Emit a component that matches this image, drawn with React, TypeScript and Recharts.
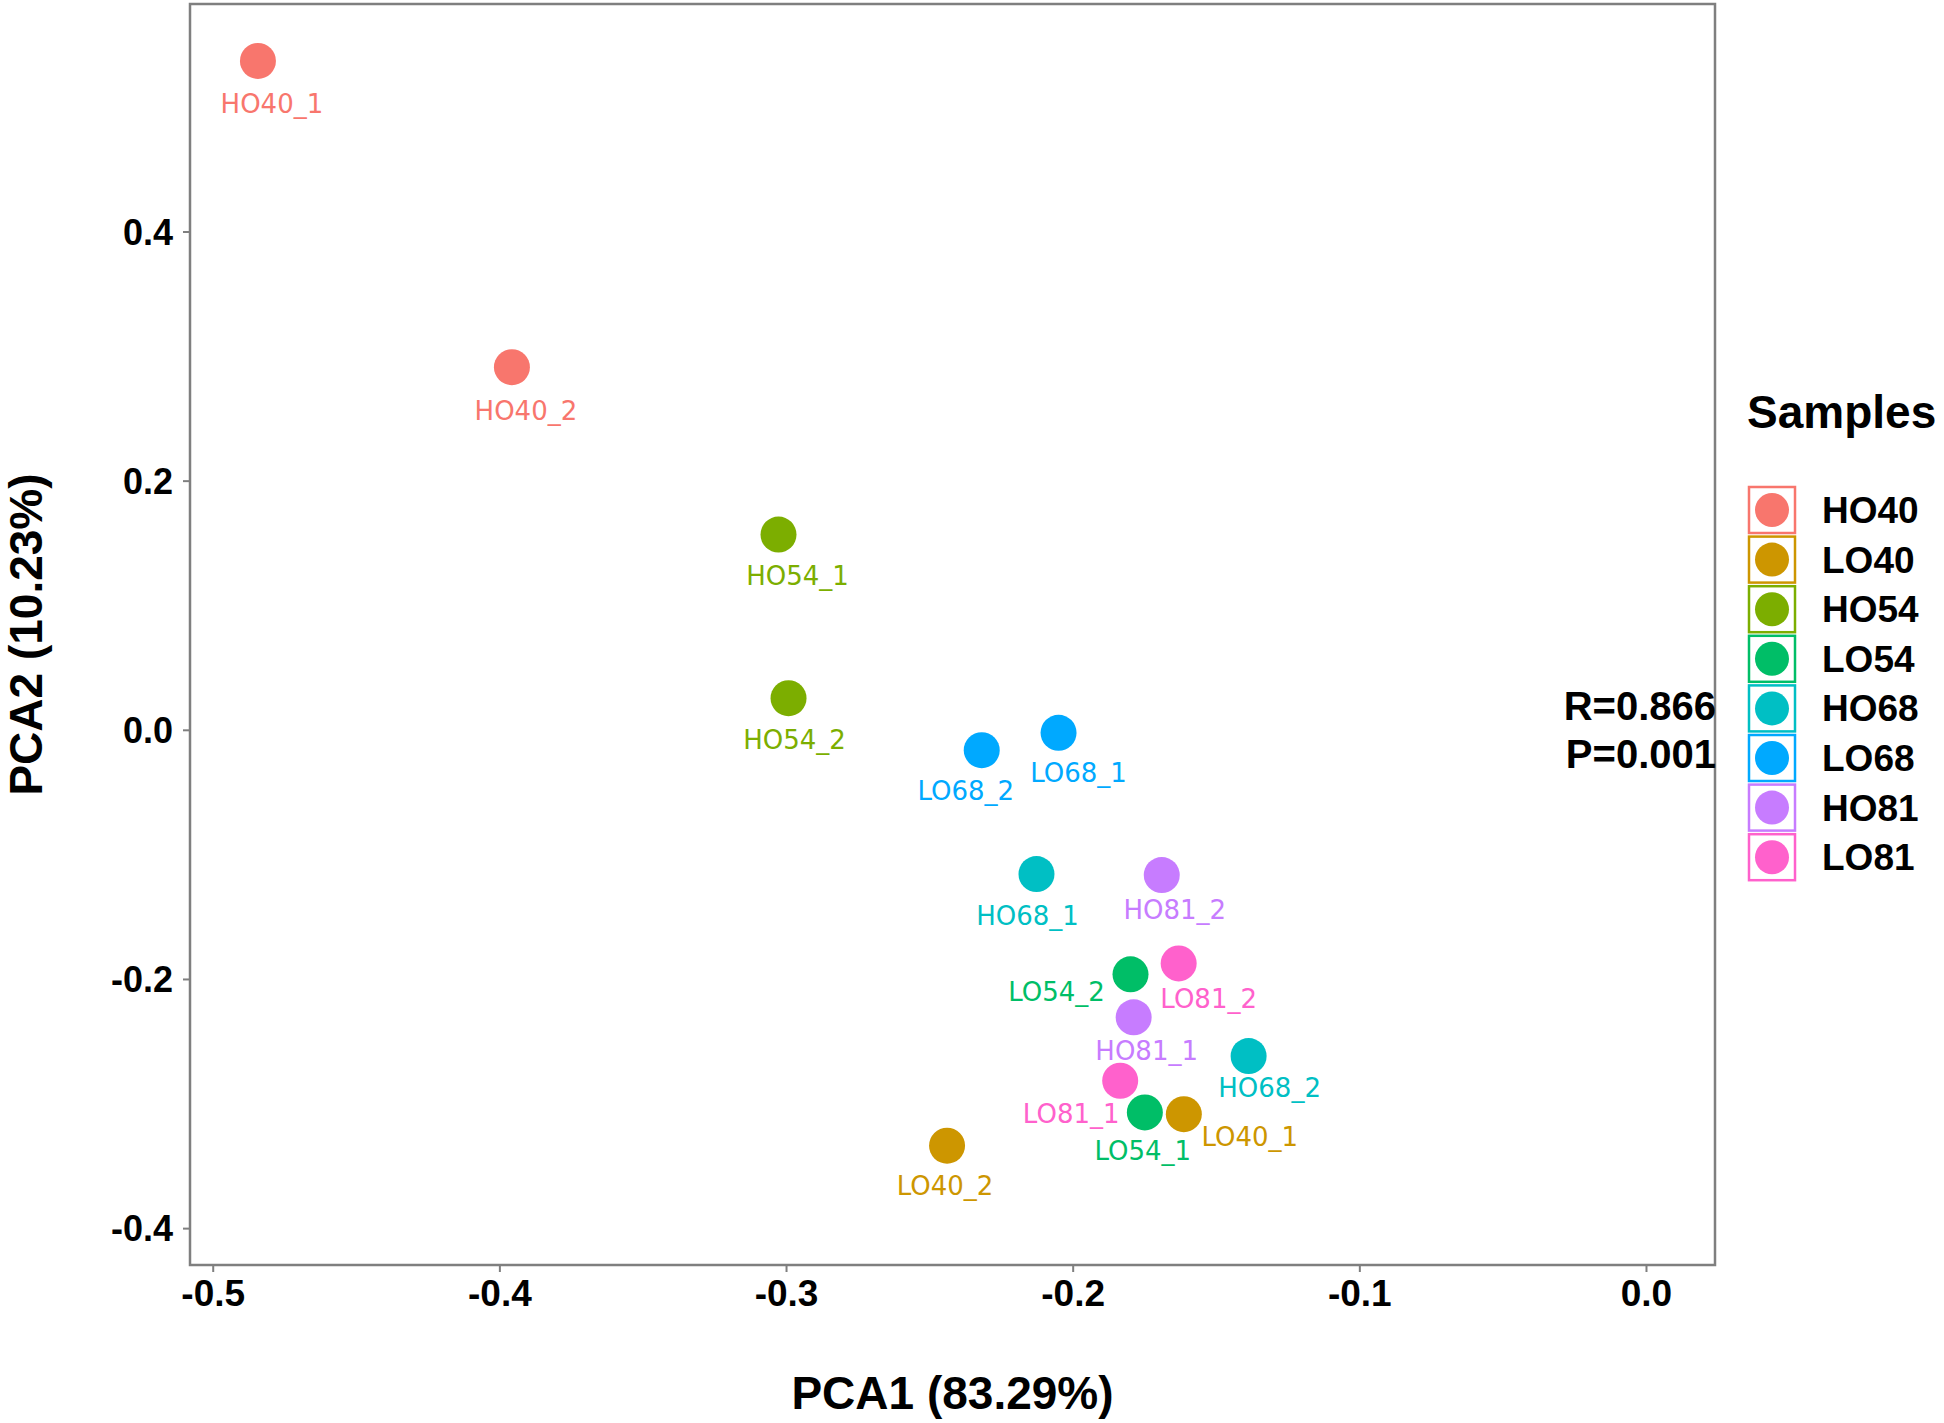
import React from 'react';
import { ScatterChart, Scatter, XAxis, YAxis, ReferenceArea } from 'recharts';

const groups = ['HO40', 'LO40', 'HO54', 'LO54', 'HO68', 'LO68', 'HO81', 'LO81'];
const groupColors = ['#F8766D', '#CD9600', '#7CAE00', '#00BE67', '#00BFC4', '#00A9FF', '#C77CFF', '#FF61CC'];

const samples = ['HO40_1', 'HO40_2', 'LO40_1', 'LO40_2', 'HO54_1', 'HO54_2', 'LO54_1', 'LO54_2',
  'HO68_1', 'HO68_2', 'LO68_1', 'LO68_2', 'HO81_1', 'HO81_2', 'LO81_1', 'LO81_2'];
const sampleGroup = ['HO40', 'HO40', 'LO40', 'LO40', 'HO54', 'HO54', 'LO54', 'LO54',
  'HO68', 'HO68', 'LO68', 'LO68', 'HO81', 'HO81', 'LO81', 'LO81'];
const pca1 = [-0.4844, -0.3958, -0.1614, -0.2440, -0.3028, -0.2993, -0.1750, -0.1800,
  -0.2128, -0.1388, -0.2051, -0.2319, -0.1789, -0.1691, -0.1836, -0.1632];
const pca2 = [0.5373, 0.2915, -0.3081, -0.3334, 0.1571, 0.0258, -0.3067, -0.1959,
  -0.1154, -0.2615, -0.0020, -0.0160, -0.2304, -0.1162, -0.2813, -0.1871];

const xTicks = [-0.5, -0.4, -0.3, -0.2, -0.1, 0.0];
const yTicks = [-0.4, -0.2, 0.0, 0.2, 0.4];
const xDomain = [-0.5081, 0.0239];
const yDomain = [-0.4292, 0.583];

const statLines = ['R=0.866', 'P=0.001'];
const legendTitle = 'Samples';
const xTitle = 'PCA1 (83.29%)';
const yTitle = 'PCA2 (10.23%)';

// label placement (ggrepel-like nudges, pixels)
const labelNudge: Record<string, [number, number]> = {
  HO40_1: [14, 43], HO40_2: [14, 43], HO54_1: [19, 41], HO54_2: [6, 41],
  LO68_1: [20, 40], LO68_2: [-16, 40], HO68_1: [-9, 42], HO81_2: [13, 35],
  LO54_2: [-74, 17], LO81_2: [30, 35], HO81_1: [13, 33], HO68_2: [21, 32],
  LO81_1: [-49, 33], LO54_1: [-2, 38], LO40_1: [66, 23], LO40_2: [-2, 40],
};

const FONT = '"Liberation Sans", Arial, Helvetica, sans-serif';
const LABEL_FONT = '"DejaVu Sans", Verdana, sans-serif';

const allPoints = samples.map((s, i) => ({
  name: s,
  group: sampleGroup[i],
  color: groupColors[groups.indexOf(sampleGroup[i])],
  x: pca1[i],
  y: pca2[i],
}));

const fmt = (v: number) => (Math.abs(v) < 1e-9 ? '0.0' : v.toFixed(1));

const Dot = (props: any) => {
  const { cx, cy, fill } = props;
  if (cx == null || cy == null) return null;
  return <circle cx={cx} cy={cy} r={18} fill={fill} />;
};

const LabelShape = (props: any) => {
  const { cx, cy, payload } = props;
  if (cx == null || cy == null || !payload) return null;
  const n = labelNudge[payload.name] || [0, 38];
  return (
    <text x={cx + n[0]} y={cy + n[1]} dy="0.36em" textAnchor="middle" fontSize={26}
      fontFamily={LABEL_FONT} fill={payload.color}>
      {payload.name}
    </text>
  );
};

const YTitle = (props: any) => {
  const vb = props.viewBox || {};
  const cy = vb.y != null && vb.height != null ? vb.y + vb.height / 2 : 634.5;
  return (
    <text x={42} y={cy} transform={`rotate(-90, 42, ${cy})`} textAnchor="middle"
      fontSize={46} fontWeight="bold" fontFamily={FONT} fill="#000">
      {yTitle}
    </text>
  );
};

const XTitle = (props: any) => {
  const vb = props.viewBox || {};
  const cx = vb.x != null && vb.width != null ? vb.x + vb.width / 2 : 952.5;
  return (
    <text x={cx} y={1409} textAnchor="middle" fontSize={46} fontWeight="bold"
      fontFamily={FONT} fill="#000">
      {xTitle}
    </text>
  );
};

export default function App() {
  return (
    <div style={{ position: 'absolute', left: 0, top: 0, width: 1944, height: 1423, background: '#fff' }}>
      <ScatterChart width={1944} height={1423} margin={{ top: 4, right: 229, left: 0, bottom: 0 }}>
        <XAxis type="number" dataKey="x" domain={xDomain} allowDataOverflow ticks={xTicks}
          tickFormatter={fmt} height={158} axisLine={false}
          tickSize={7} tickMargin={8}
          tickLine={{ stroke: '#7f7f7f', strokeWidth: 2 }}
          tick={{ fontSize: 37, fontWeight: 'bold', fill: '#000', fontFamily: FONT }}
          label={<XTitle />} />
        <YAxis type="number" dataKey="y" domain={yDomain} allowDataOverflow ticks={yTicks}
          tickFormatter={fmt} width={190} axisLine={false}
          tickSize={7} tickMargin={10}
          tickLine={{ stroke: '#7f7f7f', strokeWidth: 2 }}
          tick={{ fontSize: 36, fontWeight: 'bold', fill: '#000', fontFamily: FONT }}
          label={<YTitle />} />
        <ReferenceArea x1={xDomain[0]} x2={xDomain[1]} y1={yDomain[0]} y2={yDomain[1]}
          fill="none" fillOpacity={0} stroke="#7f7f7f" strokeWidth={2.5} ifOverflow="visible" />
        {groups.map((g, gi) => (
          <Scatter key={g} name={g} data={allPoints.filter(p => p.group === g)}
            fill={groupColors[gi]} shape={<Dot />} isAnimationActive={false} />
        ))}
        <Scatter name="labels" data={allPoints} fill="none" shape={<LabelShape />} isAnimationActive={false} />
      </ScatterChart>
      <svg width={1944} height={1423} style={{ position: 'absolute', left: 0, top: 0, pointerEvents: 'none' }}>
        {statLines.map((s, i) => (
          <text key={s} x={1716} y={720 + i * 48} textAnchor="end" fontSize={40} fontWeight="bold"
            fontFamily={FONT} fill="#000">{s}</text>
        ))}
        <text x={1747} y={428} fontSize={46} fontWeight="bold" fontFamily={FONT} fill="#000">{legendTitle}</text>
        {groups.map((g, i) => (
          <g key={g}>
            <rect x={1749} y={487 + i * 49.6} width={46} height={46} fill="#fff" stroke={groupColors[i]} strokeWidth={2.5} />
            <circle cx={1772} cy={510 + i * 49.6} r={17} fill={groupColors[i]} />
            <text x={1822} y={523 + i * 49.6} fontSize={37} fontWeight="bold" fontFamily={FONT} fill="#000">{g}</text>
          </g>
        ))}
      </svg>
    </div>
  );
}
